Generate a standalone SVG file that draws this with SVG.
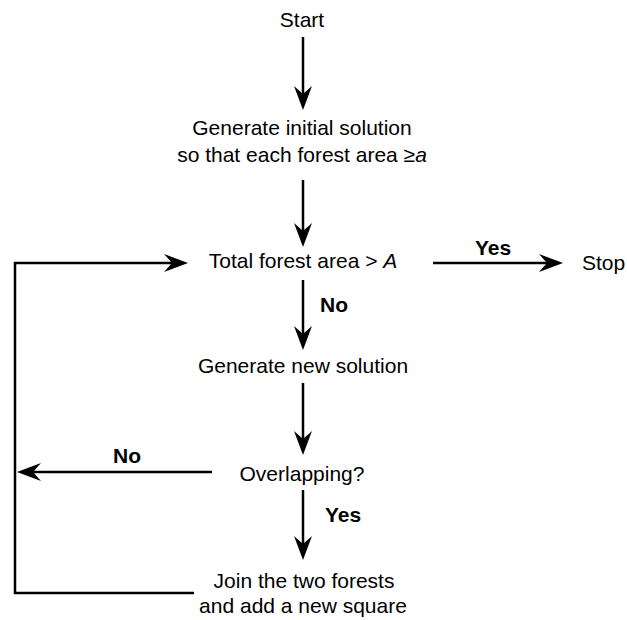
<svg xmlns="http://www.w3.org/2000/svg" width="627" height="620" viewBox="0 0 627 620">
<style>
text{font-family:"Liberation Sans",Arial,sans-serif;font-size:21px;fill:#000}
.c{text-anchor:middle}
.b{font-weight:bold}
.conn{stroke:#000;stroke-width:2.5;fill:none}
.arr{marker-end:url(#ah)}
</style>
<defs>
<marker id="ah" viewBox="-15 -10 26 20" refX="0" refY="0" markerWidth="26" markerHeight="20" markerUnits="userSpaceOnUse" orient="auto">
<path d="M10,0 L-14,-9 L-6,0 L-14,9 Z" fill="#000"/>
</marker>
</defs>
<g id="connectors">
<line class="conn arr" x1="303" y1="37" x2="303" y2="100"/>
<line class="conn arr" x1="303" y1="180" x2="303" y2="237"/>
<line class="conn arr" x1="433" y1="263" x2="553" y2="263"/>
<polyline class="conn arr" points="194,593 15,593 15,263 178,263"/>
<line class="conn arr" x1="303" y1="280" x2="303" y2="340"/>
<line class="conn arr" x1="303" y1="383" x2="303" y2="445"/>
<line class="conn arr" x1="212" y1="472" x2="27" y2="472"/>
<line class="conn arr" x1="303" y1="490" x2="303" y2="550"/>
<text class="c b" x="493" y="255">Yes</text>
<text class="b" x="320" y="312">No</text>
<text class="c b" x="127" y="463">No</text>
<text class="b" x="325" y="522">Yes</text>
</g>
<g id="start"><text class="c" x="302" y="27">Start</text></g>
<g id="init">
<text class="c" x="302" y="135">Generate initial solution</text>
<text class="c" x="302" y="162">so that each forest area ≥<tspan font-style="italic">a</tspan></text>
</g>
<g id="total"><text class="c" x="303" y="268">Total forest area &gt; <tspan font-style="italic">A</tspan></text></g>
<g id="stop"><text x="582" y="270">Stop</text></g>
<g id="newsol"><text class="c" x="303" y="373">Generate new solution</text></g>
<g id="overlap"><text class="c" x="302" y="481">Overlapping?</text></g>
<g id="join">
<text class="c" x="304" y="588">Join the two forests</text>
<text class="c" x="303" y="613">and add a new square</text>
</g>
</svg>
